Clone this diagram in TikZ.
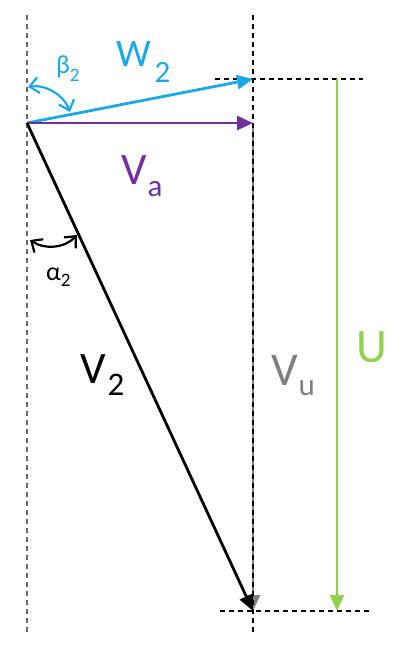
\documentclass[tikz,border=0pt]{standalone}
\usepackage{fontspec}
\setmainfont{Carlito}
\usetikzlibrary{arrows.meta}
\definecolor{wcol}{HTML}{1BA8E6}
\definecolor{vacol}{HTML}{7030A0}
\definecolor{ucol}{HTML}{92D050}
\definecolor{vucol}{HTML}{808080}
\definecolor{guide}{HTML}{444444}
\newcommand{\lblab}[6]{{\fontsize{#2}{#2}\selectfont #1}\kern#6pt\raisebox{-#5pt}{\fontsize{#4}{#4}\selectfont #3}}
\begin{document}
\begin{tikzpicture}[x=1pt,y=-1pt,
  guideline/.style={draw=guide,line width=1.2pt,dash pattern=on 5pt off 4pt},
  vec/.style={line width=2.8pt,-{Triangle[length=16pt,width=14pt]}},
  anglearc/.style={line width=2.2pt,{Straight Barb[length=9pt,width=16pt]}-{Straight Barb[length=9pt,width=16pt]}},
  lbl/.style={anchor=base west,inner sep=0pt,outer sep=0pt}]
\useasboundingbox (0,0) rectangle (400,647);
% points
\coordinate (O) at (27,123);
\coordinate (A) at (253,79);
\coordinate (B) at (253,123);
\coordinate (C) at (253,611);
\coordinate (Ut) at (337,79);
\coordinate (Ub) at (337,611);
\coordinate (L1) at (27,15);
\coordinate (L2) at (27,632);
\coordinate (R1) at (253,15);
\coordinate (R2) at (253,632);
\coordinate (T1) at (215,79);
\coordinate (T2) at (363,79);
\coordinate (D1) at (220,611);
\coordinate (D2) at (370,611);
\coordinate (b1) at (28,87);
\coordinate (b2) at (70,112);
\coordinate (a1) at (30,240);
\coordinate (a2) at (77,235);
% V_u (gray) under the dashed guide
\draw[vec,vucol] (B) -- (C);
% guides
\draw[guideline,draw=guide!80] (L1) -- (L2);
\draw[guideline,draw=black] (R1) -- (R2);
\draw[guideline,draw=black] (T1) -- (T2);
\draw[guideline,draw=black] (D1) -- (D2);
% vectors
\draw[vec,wcol] (O) -- (A);
\draw[vec,vacol] (O) -- (B);
\draw[vec,black] (O) -- (C);
\draw[vec,ucol] (Ut) -- (Ub);
% angle arcs
\draw[anglearc,wcol] (b1) .. controls (45,84) and (64,95) .. (b2);
\draw[anglearc,black] (a1) .. controls (45,250) and (65,248) .. (a2);
% labels
\node[lbl,text=wcol] (w2) at (116,67) {\lblab{W}{39}{2}{31}{16}{4}};
\node[lbl,text=vacol] (va) at (121,185) {\lblab{V}{45}{a}{31}{12}{1}};
\node[lbl,text=black] (v2) at (80,383) {\lblab{V}{45}{2}{33}{12}{2}};
\node[lbl,text=vucol] (vu) at (271,385) {\lblab{V}{47}{u}{31}{10}{1}};
\node[lbl,text=ucol] (u) at (356,362) {\fontsize{48}{48}\selectfont U};
\node[lbl,text=wcol] (beta) at (56,74) {\lblab{β}{26}{2}{19}{8}{0}};
\node[lbl,text=black] (alpha) at (46,280) {\lblab{α}{26}{2}{19}{6}{0}};
\end{tikzpicture}
\end{document}
